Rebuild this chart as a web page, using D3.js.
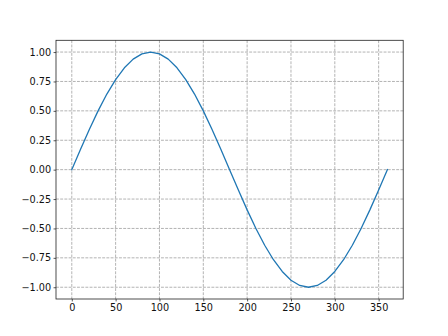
<!DOCTYPE html>
<html><head><meta charset="utf-8">
<script src="https://cdn.jsdelivr.net/npm/d3@7"></script>
<style>body{margin:0;background:#fff}svg{display:block}</style>
</head><body>
<svg id="c" width="448" height="336"></svg>
<script>
const xValues = [0,10,20,30,40,50,60,70,80,90,100,110,120,130,140,150,160,170,180,190,200,210,220,230,240,250,260,270,280,290,300,310,320,330,340,350,360];
const yValues = [0,0.174,0.342,0.5,0.643,0.766,0.866,0.94,0.985,1,0.985,0.94,0.866,0.766,0.643,0.5,0.342,0.174,0,-0.174,-0.342,-0.5,-0.643,-0.766,-0.866,-0.94,-0.985,-1,-0.985,-0.94,-0.866,-0.766,-0.643,-0.5,-0.342,-0.174,0];
const xTicks = [0,50,100,150,200,250,300,350];
const yTicks = [-1,-0.75,-0.5,-0.25,0,0.25,0.5,0.75,1];

const L=56, R=403.2, T=40.3, B=299;
const svg = d3.select("#c");
const x = d3.scaleLinear().domain([-18,378]).range([L,R]);
const y = d3.scaleLinear().domain([-1.1,1.1]).range([B,T]);
const font = "DejaVu Sans, sans-serif";
const dash = "2.9,1.3";
const gridColor = "#a0a0a0";

// grid
svg.append("g").selectAll("line").data(xTicks).join("line")
  .attr("x1",d=>x(d)).attr("x2",d=>x(d)).attr("y1",T).attr("y2",B)
  .attr("stroke",gridColor).attr("stroke-width",0.8).attr("stroke-dasharray",dash);
svg.append("g").selectAll("line").data(yTicks).join("line")
  .attr("y1",d=>y(d)).attr("y2",d=>y(d)).attr("x1",L).attr("x2",R)
  .attr("stroke",gridColor).attr("stroke-width",0.8).attr("stroke-dasharray",dash);

// line
svg.append("path").datum(xValues.map((v,i)=>[v,yValues[i]]))
  .attr("d",d3.line().x(d=>x(d[0])).y(d=>y(d[1])))
  .attr("fill","none").attr("stroke","#1f77b4").attr("stroke-width",1.3)
  .attr("stroke-linejoin","round").attr("stroke-linecap","square");

// axes
const fmt = d => d3.format(".2f")(d).replace("-","\u2212");
const xa = svg.append("g").attr("transform",`translate(0,${B})`)
  .call(d3.axisBottom(x).tickValues(xTicks).tickSize(2.45).tickPadding(2.5).tickFormat(d3.format("d")));
const ya = svg.append("g").attr("transform",`translate(${L},0)`)
  .call(d3.axisLeft(y).tickValues(yTicks).tickSize(2.45).tickPadding(2.5).tickFormat(fmt));
[xa,ya].forEach(a=>{
  a.select(".domain").remove();
  a.selectAll(".tick line").attr("stroke","#222").attr("stroke-width",0.75);
  a.selectAll("text").attr("font-family",font).attr("font-size","9.7px").attr("fill","#111");
});
// spines
svg.append("rect").attr("x",L).attr("y",T).attr("width",R-L).attr("height",B-T)
  .attr("fill","none").attr("stroke","#222").attr("stroke-width",0.8);
</script>
</body></html>
